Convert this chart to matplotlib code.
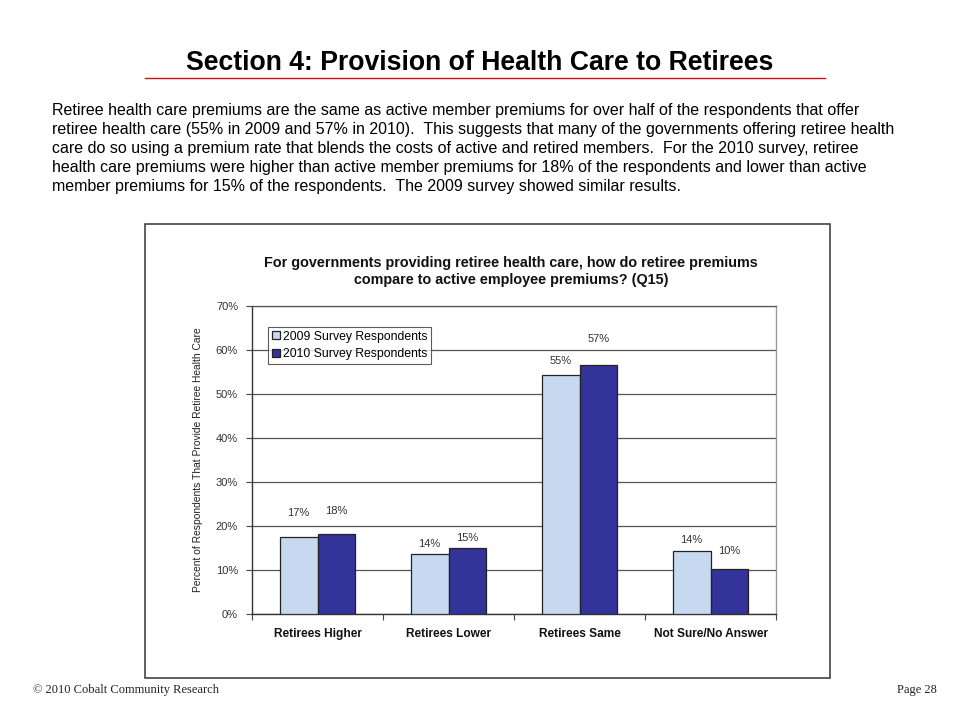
import matplotlib
matplotlib.use("Agg")
import matplotlib.pyplot as plt
from matplotlib.patches import Rectangle
from matplotlib.lines import Line2D
import numpy as np

categories = ["Retirees Higher", "Retirees Lower", "Retirees Same", "Not Sure/No Answer"]
values_2009 = [17.4, 13.5, 54.3, 14.3]
values_2010 = [18.1, 14.9, 56.6, 10.1]
labels_2009 = ["17%", "14%", "55%", "14%"]
labels_2010 = ["18%", "15%", "57%", "10%"]
series_names = ["2009 Survey Respondents", "2010 Survey Respondents"]
yticks = [0, 10, 20, 30, 40, 50, 60, 70]
ytick_labels = ["0%", "10%", "20%", "30%", "40%", "50%", "60%", "70%"]

page_title = "Section 4: Provision of Health Care to Retirees"
paragraph = [
    "Retiree health care premiums are the same as active member premiums for over half of the respondents that offer",
    "retiree health care (55% in 2009 and 57% in 2010).  This suggests that many of the governments offering retiree health",
    "care do so using a premium rate that blends the costs of active and retired members.  For the 2010 survey, retiree",
    "health care premiums were higher than active member premiums for 18% of the respondents and lower than active",
    "member premiums for 15% of the respondents.  The 2009 survey showed similar results.",
]
chart_title = "For governments providing retiree health care, how do retiree premiums\ncompare to active employee premiums? (Q15)"
ylabel = "Percent of Respondents That Provide Retiree Health Care"
footer_left = "\u00a9 2010 Cobalt Community Research"
footer_right = "Page 28"

NARROW = ["Liberation Sans Narrow", "Liberation Sans", "DejaVu Sans"]
SANS = ["Liberation Sans", "DejaVu Sans"]
SERIF = ["Liberation Serif", "DejaVu Serif"]

W, H = 960, 720
fig = plt.figure(figsize=(9.6, 7.2), dpi=100)
fig.patch.set_facecolor("white")

def fx(px):
    return px / W

def fy(py):
    return 1 - py / H

# Page title
fig.text(fx(480), fy(63), page_title, ha="center", va="center",
         fontsize=19.2, fontweight="bold", family=NARROW, color="black")
fig.add_artist(Line2D([fx(145), fx(825)], [fy(78), fy(78)], color="#cc1111", lw=1.0))

# Paragraph
for i, line in enumerate(paragraph):
    fig.text(fx(52), fy(111 + i * 18.8), line, ha="left", va="center",
             fontsize=11.5, family=NARROW, color="black")

# Chart box
fig.add_artist(Rectangle((fx(145), fy(678)), fx(830) - fx(145), fy(224) - fy(678),
                         transform=fig.transFigure, fill=False, edgecolor="#444444", lw=1.2))

# Axes
ax = fig.add_axes([fx(252), fy(613.7), fx(776) - fx(252), fy(306) - fy(613.7)])
x = np.arange(len(categories))
bw = 0.29
c09 = "#C6D9F0"
c10 = "#333399"
ax.bar(x - bw / 2, values_2009, bw, color=c09, edgecolor="#222222", lw=0.9, zorder=3,
       label=series_names[0])
ax.bar(x + bw / 2, values_2010, bw, color=c10, edgecolor="#222222", lw=0.9, zorder=3,
       label=series_names[1])

off09 = [24, 10, 14, 11]
off10 = [23, 10, 26, 18]
for i in range(len(categories)):
    ax.annotate(labels_2009[i], (x[i] - bw / 2, values_2009[i]), xytext=(0, off09[i] * 0.72),
                textcoords="offset points", ha="center", va="center", fontsize=8,
                family=SANS, color="#333333")
    ax.annotate(labels_2010[i], (x[i] + bw / 2, values_2010[i]), xytext=(0, off10[i] * 0.72),
                textcoords="offset points", ha="center", va="center", fontsize=8,
                family=SANS, color="#333333")

ax.set_xlim(-0.5, len(categories) - 0.5)
ax.set_ylim(0, 70)
ax.set_yticks(yticks)
ax.set_yticklabels(ytick_labels, fontsize=8, family=SANS, color="#333333")
ax.set_xticks(x)
ax.set_xticklabels(categories, fontsize=8.6, family=SANS, fontweight="bold", color="#111111")
ax.set_xticks(np.arange(len(categories) + 1) - 0.5, minor=True)
ax.tick_params(axis="x", which="major", length=0, pad=10)
ax.tick_params(axis="x", which="minor", length=4, direction="out", color="#444444", width=0.8)
ax.tick_params(axis="y", length=4, direction="out", color="#444444", width=0.8, pad=6)
ax.yaxis.grid(True, color="#555555", lw=0.9, zorder=0)
ax.set_axisbelow(True)
for s in ["left", "bottom"]:
    ax.spines[s].set_color("#333333")
    ax.spines[s].set_linewidth(1.0)
ax.spines["right"].set_color("#999999")
ax.spines["right"].set_linewidth(1.0)
ax.spines["top"].set_color("#555555")
ax.spines["top"].set_linewidth(0.9)

ax.set_ylabel(ylabel, fontsize=7.4, family=SANS, color="#222222", labelpad=9)

leg = ax.legend(loc="upper left",
                bbox_to_anchor=((268 - 252) / (776 - 252), 1 - (327 - 306) / 307.7),
                prop={"family": SANS, "size": 8.8}, frameon=True, fancybox=False,
                handlelength=0.65, handleheight=0.65, handletextpad=0.3, borderpad=0.3,
                labelspacing=0.45, borderaxespad=0)
leg.get_frame().set_edgecolor("#333333")
leg.get_frame().set_linewidth(0.8)

# Chart title
fig.text(fx(511), fy(271.5), chart_title, ha="center", va="center", fontsize=10.4,
         fontweight="bold", family=SANS, color="#111111", linespacing=1.35)

# Footer
fig.text(fx(33), fy(690.5), footer_left, ha="left", va="center", fontsize=9, family=SERIF, color="#222222")
fig.text(fx(937), fy(690.5), footer_right, ha="right", va="center", fontsize=9, family=SERIF, color="#222222")

fig.savefig("out.png", dpi=100, facecolor="white")
